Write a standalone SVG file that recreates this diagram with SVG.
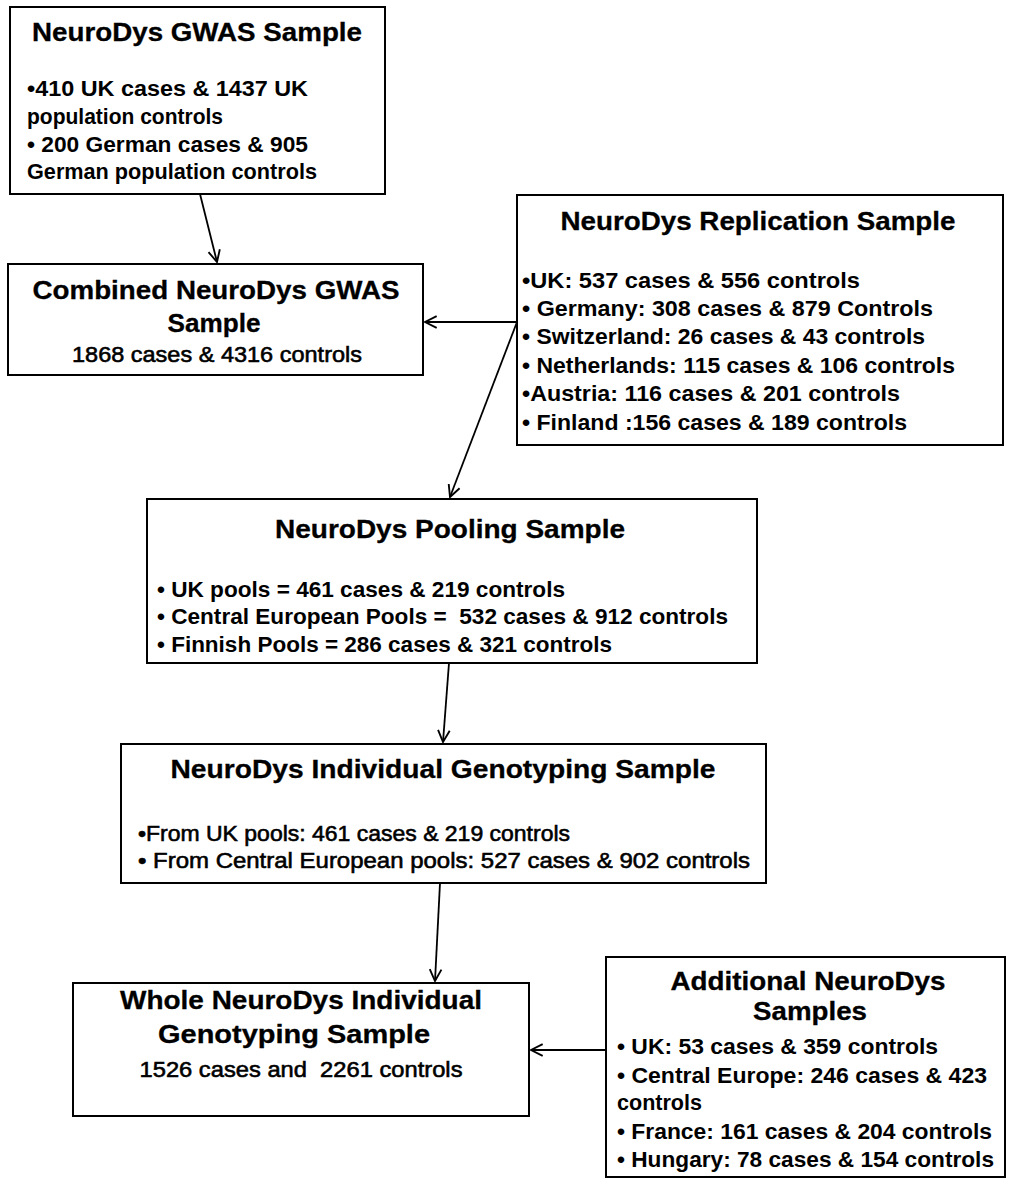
<svg xmlns="http://www.w3.org/2000/svg" width="1014" height="1185" viewBox="0 0 1014 1185">
<style>
.box{fill:#fff;stroke:#000;stroke-width:2}
.t{font-family:"Liberation Sans",Arial,sans-serif;font-weight:bold;font-size:26px;fill:#000;stroke:#000;stroke-width:0.3}
.b{font-family:"Liberation Sans",Arial,sans-serif;font-weight:bold;font-size:22.5px;fill:#000}
.r{font-family:"Liberation Sans",Arial,sans-serif;font-weight:normal;font-size:22.5px;fill:#000;stroke:#000;stroke-width:0.6}
.c{text-anchor:middle}
.conn{stroke:#000;stroke-width:1.8;fill:none;marker-end:url(#ah)}
</style>
<defs>
<marker id="ah" viewBox="0 0 12 12" refX="11" refY="6" markerWidth="14" markerHeight="14" markerUnits="userSpaceOnUse" orient="auto">
<path d="M1,1 L11,6 L1,11" fill="none" stroke="#000" stroke-width="1.6"/>
</marker>
</defs>
<rect width="1014" height="1185" fill="#fff"/>
<g id="connectors">
<path class="conn" d="M200,194 L217,262"/>
<path class="conn" d="M517,322 L425,322"/>
<path class="conn" d="M517,322 L450,497"/>
<path class="conn" d="M449,663 L443,742"/>
<path class="conn" d="M440,883 L435,981"/>
<path class="conn" d="M606,1050 L531,1050"/>
</g>
<g id="n1">
<rect class="box" x="10" y="7" width="375" height="187"/>
<text class="t c" x="197" y="41" textLength="330" lengthAdjust="spacingAndGlyphs">NeuroDys GWAS Sample</text>
<text class="b" x="27" y="96" textLength="281" lengthAdjust="spacingAndGlyphs">•410 UK cases &amp; 1437 UK</text>
<text class="b" x="27" y="124" textLength="196" lengthAdjust="spacingAndGlyphs">population controls</text>
<text class="b" x="27" y="152" textLength="281" lengthAdjust="spacingAndGlyphs">• 200 German cases &amp; 905</text>
<text class="b" x="27" y="179" textLength="290" lengthAdjust="spacingAndGlyphs">German population controls</text>
</g>
<g id="n2">
<rect class="box" x="8" y="264" width="415" height="111"/>
<text class="t c" x="216" y="299" textLength="367" lengthAdjust="spacingAndGlyphs">Combined NeuroDys GWAS</text>
<text class="t c" x="214" y="332" textLength="93" lengthAdjust="spacingAndGlyphs">Sample</text>
<text class="r c" x="217" y="362" textLength="290" lengthAdjust="spacingAndGlyphs">1868 cases &amp; 4316 controls</text>
</g>
<g id="n3">
<rect class="box" x="517" y="195" width="486" height="250"/>
<text class="t c" x="758" y="230" textLength="395" lengthAdjust="spacingAndGlyphs">NeuroDys Replication Sample</text>
<text class="b" x="522" y="288" textLength="338" lengthAdjust="spacingAndGlyphs">•UK: 537 cases &amp; 556 controls</text>
<text class="b" x="522" y="316" textLength="411" lengthAdjust="spacingAndGlyphs">• Germany: 308 cases &amp; 879 Controls</text>
<text class="b" x="522" y="344" textLength="403" lengthAdjust="spacingAndGlyphs">• Switzerland: 26 cases &amp; 43 controls</text>
<text class="b" x="522" y="373" textLength="433" lengthAdjust="spacingAndGlyphs">• Netherlands: 115 cases &amp; 106 controls</text>
<text class="b" x="522" y="401" textLength="378" lengthAdjust="spacingAndGlyphs">•Austria: 116 cases &amp; 201 controls</text>
<text class="b" x="522" y="430" textLength="385" lengthAdjust="spacingAndGlyphs">• Finland :156 cases &amp; 189 controls</text>
</g>
<g id="n4">
<rect class="box" x="147" y="499" width="610" height="164"/>
<text class="t c" x="450" y="538" textLength="350" lengthAdjust="spacingAndGlyphs">NeuroDys Pooling Sample</text>
<text class="b" x="157" y="597" textLength="408" lengthAdjust="spacingAndGlyphs">• UK pools = 461 cases &amp; 219 controls</text>
<text class="b" x="157" y="624" textLength="571" lengthAdjust="spacingAndGlyphs">• Central European Pools =&#160; 532 cases &amp; 912 controls</text>
<text class="b" x="157" y="652" textLength="455" lengthAdjust="spacingAndGlyphs">• Finnish Pools = 286 cases &amp; 321 controls</text>
</g>
<g id="n5">
<rect class="box" x="121" y="744" width="645" height="139"/>
<text class="t c" x="443" y="778" textLength="545" lengthAdjust="spacingAndGlyphs">NeuroDys Individual Genotyping Sample</text>
<text class="r" x="138" y="841" textLength="432" lengthAdjust="spacingAndGlyphs">•From UK pools: 461 cases &amp; 219 controls</text>
<text class="r" x="138" y="868" textLength="612" lengthAdjust="spacingAndGlyphs">• From Central European pools: 527 cases &amp; 902 controls</text>
</g>
<g id="n6">
<rect class="box" x="73" y="983" width="456" height="133"/>
<text class="t c" x="301" y="1009" textLength="362" lengthAdjust="spacingAndGlyphs">Whole NeuroDys Individual</text>
<text class="t c" x="294" y="1043" textLength="272" lengthAdjust="spacingAndGlyphs">Genotyping Sample</text>
<text class="r c" x="301" y="1077" textLength="323" lengthAdjust="spacingAndGlyphs">1526 cases and&#160; 2261 controls</text>
</g>
<g id="n7">
<rect class="box" x="606" y="957" width="399" height="220"/>
<text class="t c" x="808" y="990" textLength="275" lengthAdjust="spacingAndGlyphs">Additional NeuroDys</text>
<text class="t c" x="810" y="1020" textLength="114" lengthAdjust="spacingAndGlyphs">Samples</text>
<text class="b" x="617" y="1054" textLength="321" lengthAdjust="spacingAndGlyphs">• UK: 53 cases &amp; 359 controls</text>
<text class="b" x="617" y="1083" textLength="370" lengthAdjust="spacingAndGlyphs">• Central Europe: 246 cases &amp; 423</text>
<text class="b" x="617" y="1110" textLength="85" lengthAdjust="spacingAndGlyphs">controls</text>
<text class="b" x="617" y="1139" textLength="375" lengthAdjust="spacingAndGlyphs">• France: 161 cases &amp; 204 controls</text>
<text class="b" x="617" y="1167" textLength="377" lengthAdjust="spacingAndGlyphs">• Hungary: 78 cases &amp; 154 controls</text>
</g>
</svg>
